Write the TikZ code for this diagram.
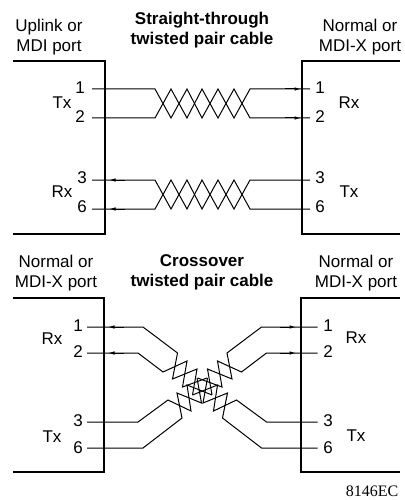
\documentclass[tikz,border=0pt]{standalone}
\usepackage{fontspec}
\setmainfont{Liberation Sans}
\newfontfamily\serifcode{Liberation Serif}
\usepackage{tikz}
\usetikzlibrary{arrows.meta}

\tikzset{
    wire/.style={line width=1pt, line join=miter},
    portbox/.style={line width=2.2pt},
    tiparrow/.style={wire, -{Latex[length=6.5pt,width=3.5pt]}},
    lab/.style={font=\fontsize{17}{20}\selectfont, inner sep=0pt},
    head/.style={lab, align=center},
    title/.style={head, font=\fontsize{17}{20}\selectfont\bfseries}
}

\begin{document}
\begin{tikzpicture}[x=1pt, y=-1pt]
    \useasboundingbox (0,0) rectangle (404,500);

    % Straight-through headings
    \node[head] (uplink) at (49,37) {Uplink or\\MDI port};
    \node[title] (straight) at (202,30) {Straight-through\\twisted pair cable};
    \node[head] (normalA) at (360,37) {Normal or\\MDI-X port};

    % Straight-through ports
    \draw[portbox] (13,61) -| (105,234) -- (13,234);
    \draw[portbox] (400,61) -| (302,234) -- (400,234);

    % Straight-through pins
    \foreach \y/\pin in {88/1, 117/2} {
        \node[lab] (sl\pin) at (80,\y) {\pin};
        \node[lab] (sr\pin) at (320,\y) {\pin};
    }
    \foreach \y/\pin in {178/3, 207/6} {
        \node[lab] (sl\pin) at (82,\y) {\pin};
        \node[lab] (sr\pin) at (320,\y) {\pin};
    }
    \node[lab] (stxl) at (62,103) {Tx};
    \node[lab] (srxl) at (62,192) {Rx};
    \node[lab] (srxr) at (349,103) {Rx};
    \node[lab] (stxr) at (349,192) {Tx};

    % Straight-through twisted pairs
    \foreach \up/\dn in {89/118, 180/209} {
        \draw[wire] (92,\up) -- (155,\up) -- (171,\dn) -- (187,\up) -- (202,\dn)
            -- (218,\up) -- (234,\dn) -- (250,\up) -- (310,\up);
        \draw[wire] (92,\dn) -- (155,\dn) -- (171,\up) -- (187,\dn) -- (202,\up)
            -- (218,\dn) -- (234,\up) -- (250,\dn) -- (310,\dn);
    }
    \foreach \y in {89,118} {
        \draw[tiparrow] (285,\y) -- (301,\y);
    }
    \foreach \y in {180,209} {
        \draw[tiparrow] (125,\y) -- (109,\y);
    }

    % Crossover headings
    \node[head] (normalB) at (56,273) {Normal or\\MDI-X port};
    \node[title] (cross) at (202,272) {Crossover\\twisted pair cable};
    \node[head] (normalC) at (356,273) {Normal or\\MDI-X port};

    % Crossover ports
    \draw[portbox] (13,298) -| (104,472) -- (13,472);
    \draw[portbox] (400,298) -| (301,472) -- (400,472);

    % Crossover pins
    \foreach \y/\pin in {326/1, 352/2, 421/3, 448/6} {
        \node[lab] (cl\pin) at (78,\y) {\pin};
        \node[lab] (cr\pin) at (328,\y) {\pin};
    }
    \node[lab] (crxl) at (52,339) {Rx};
    \node[lab] (ctxl) at (52,437) {Tx};
    \node[lab] (crxr) at (356,338) {Rx};
    \node[lab] (ctxr) at (356,436) {Tx};

    % Crossover twisted pairs, left half and its mirror image
    \foreach \m/\s in {0/1, 404.5/-1} {
        \begin{scope}[xshift=\m pt, xscale=\s]
            \draw[wire] (87,327) -- (143,327) -- (177.5,353) -- (172.5,379) -- (197,369) -- (192.5,395);
            \draw[wire] (87,353) -- (138,353) -- (163,372) -- (187,361) -- (182.5,387) -- (207,378);
            \draw[wire] (87,422) -- (138,422) -- (168,400) -- (191,411) -- (187,385) -- (212,395);
            \draw[wire] (87,448) -- (143,448) -- (182,418) -- (177,393) -- (201.5,403) -- (197,378);
        \end{scope}
    }
    \foreach \y in {327,353} {
        \draw[tiparrow] (124,\y) -- (108,\y);
        \draw[tiparrow] (280,\y) -- (296,\y);
    }

    \node[inner sep=0pt, font=\fontsize{16}{18}\selectfont\serifcode] (code) at (372,491) {8146EC};
\end{tikzpicture}
\end{document}
